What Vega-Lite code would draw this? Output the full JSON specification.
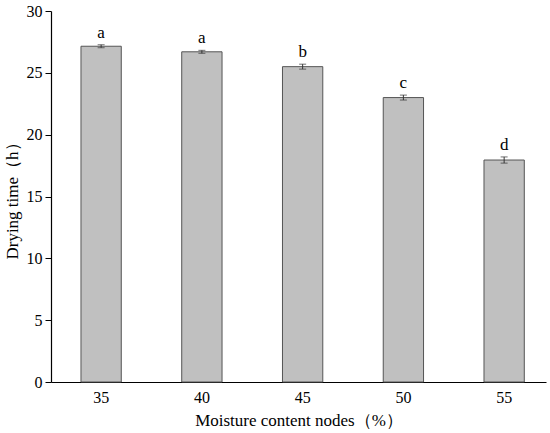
{
  "$schema": "https://vega.github.io/schema/vega-lite/v6.json",
  "width": 495,
  "height": 371,
  "autosize": "none",
  "padding": {"left": 51, "top": 11, "right": 4, "bottom": 51},
  "background": "white",
  "config": {
    "view": {"stroke": null},
    "font": "Liberation Serif",
    "axis": {"labelFont": "Liberation Serif", "titleFont": "Liberation Serif", "labelColor": "black", "titleColor": "black", "domainColor": "black", "tickColor": "black", "grid": false, "titleFontWeight": "normal", "labelFontSize": 16, "titleFontSize": 17}
  },
  "data": {
    "values": [
      {"node": "35", "time": 27.15, "err": 0.12, "sig": "a"},
      {"node": "40", "time": 26.7, "err": 0.12, "sig": "a"},
      {"node": "45", "time": 25.5, "err": 0.2, "sig": "b"},
      {"node": "50", "time": 23.0, "err": 0.2, "sig": "c"},
      {"node": "55", "time": 17.95, "err": 0.25, "sig": "d"}
    ]
  },
  "transform": [
    {"calculate": "datum.time - datum.err", "as": "lo"},
    {"calculate": "datum.time + datum.err", "as": "hi"}
  ],
  "encoding": {
    "x": {
      "field": "node", "type": "ordinal",
      "scale": {"paddingInner": 0.6, "paddingOuter": 0.2565, "align": 0.58},
      "axis": {"title": "Moisture content nodes（%）", "labelAngle": 0, "ticks": false, "labelPadding": 7, "titlePadding": 7, "domainWidth": 1.2}
    }
  },
  "layer": [
    {
      "mark": {"type": "bar", "fill": "#c0c0c0", "stroke": "#555555", "strokeWidth": 1},
      "encoding": {
        "y": {
          "field": "time", "type": "quantitative",
          "scale": {"domain": [0, 30], "nice": false},
          "axis": {"title": "Drying time（h）", "values": [0, 5, 10, 15, 20, 25, 30], "tickSize": 6, "labelPadding": 3, "titlePadding": 5, "domainWidth": 1.2}
        }
      }
    },
    {
      "mark": {"type": "rule", "color": "#333333", "strokeWidth": 1},
      "encoding": {
        "y": {"field": "lo", "type": "quantitative"},
        "y2": {"field": "hi"}
      }
    },
    {
      "mark": {"type": "tick", "color": "#333333", "thickness": 1, "size": 7, "orient": "horizontal"},
      "encoding": {"y": {"field": "lo", "type": "quantitative"}}
    },
    {
      "mark": {"type": "tick", "color": "#333333", "thickness": 1, "size": 7, "orient": "horizontal"},
      "encoding": {"y": {"field": "hi", "type": "quantitative"}}
    },
    {
      "mark": {"type": "text", "baseline": "bottom", "dy": -3, "fontSize": 17, "font": "Liberation Serif", "color": "black"},
      "encoding": {
        "y": {"field": "hi", "type": "quantitative"},
        "text": {"field": "sig"}
      }
    }
  ]
}
